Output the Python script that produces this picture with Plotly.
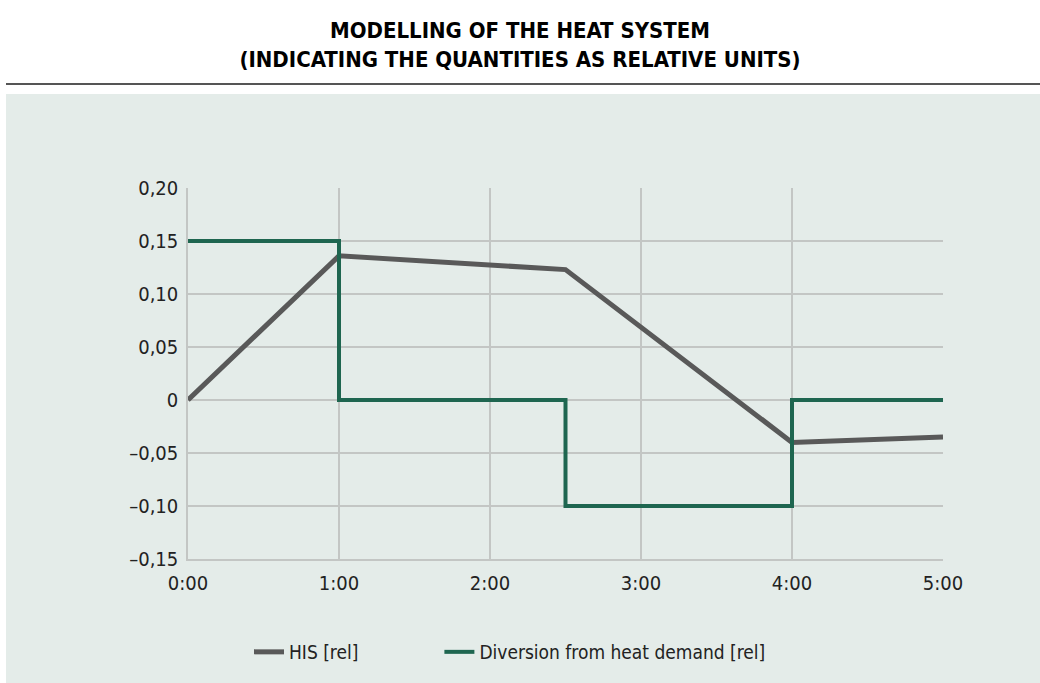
import plotly.graph_objects as go

# Data
his_x = [0, 1.0, 2.5, 4.0, 5.0]
his_y = [0, 0.136, 0.123, -0.04, -0.035]
div_x = [0, 1.0, 2.5, 4.0, 5.0]
div_y = [0.15, 0, -0.10, 0, 0]
x_tickvals = [0, 1, 2, 3, 4, 5]
x_ticktext = ["0:00", "1:00", "2:00", "3:00", "4:00", "5:00"]
y_tickvals = [0.20, 0.15, 0.10, 0.05, 0, -0.05, -0.10, -0.15]
y_ticktext = ["0,20", "0,15", "0,10", "0,05", "0", "\u20130,05", "\u20130,10", "\u20130,15"]

FONT = "DejaVu Sans Condensed, Liberation Sans Narrow, sans-serif"
BG = "#e4ece9"
GRID = "#c3c6c4"
PH = 371.0
PW = 755.0

fig = go.Figure()
fig.add_trace(go.Scatter(x=his_x, y=his_y, mode="lines", name="HIS [rel]" + "\u00a0" * 14,
                         line=dict(color="#595959", width=5)))
fig.add_trace(go.Scatter(x=div_x, y=div_y, mode="lines", name="Diversion from heat demand [rel]",
                         line=dict(color="#1e6650", width=4, shape="hv")))

fig.update_layout(
    width=1040, height=683,
    margin=dict(l=188, r=97, t=188, b=124, autoexpand=False),
    paper_bgcolor="white", plot_bgcolor=BG,
    font=dict(family=FONT, size=20, color="#222"),
    title=dict(text="<b>MODELLING OF THE HEAT SYSTEM<br>(INDICATING THE QUANTITIES AS RELATIVE UNITS)</b>",
               x=0.5, xanchor="center", y=1 - 38 / 683, yanchor="middle",
               font=dict(family=FONT, size=22, color="#000")),
    showlegend=True,
    legend=dict(orientation="h", x=(249 - 188) / PW, xanchor="left", y=(559 - 652) / PH, yanchor="middle",
                bgcolor="rgba(0,0,0,0)", font=dict(size=19, color="#222"),
                traceorder="normal"),
    shapes=[
        dict(type="rect", xref="paper", yref="paper", x0=(6 - 188) / PW, x1=2, y0=-1, y1=(559 - 94) / PH,
             fillcolor=BG, line=dict(width=0), layer="below"),
        dict(type="line", xref="paper", yref="paper", x0=(6 - 188) / PW, x1=(1040 - 188) / PW,
             y0=(559 - 84) / PH, y1=(559 - 84) / PH, line=dict(color="#555", width=2)),
    ],
)
fig.update_xaxes(range=[0, 5], tickvals=x_tickvals, ticktext=x_ticktext,
                 showgrid=True, gridcolor=GRID, gridwidth=1.5,
                 showline=True, linecolor=GRID, linewidth=1.5, zeroline=False,
                 ticks="", ticklabelstandoff=5)
fig.update_yaxes(range=[-0.15, 0.20], tickvals=y_tickvals, ticktext=y_ticktext,
                 showgrid=True, gridcolor=GRID, gridwidth=1.5,
                 showline=True, linecolor=GRID, linewidth=1.5, zeroline=False,
                 ticks="", ticklabelstandoff=4)

fig.write_html("out.html", config={"displayModeBar": False},
               post_script="document.body.style.margin='0';document.body.style.padding='0';")
